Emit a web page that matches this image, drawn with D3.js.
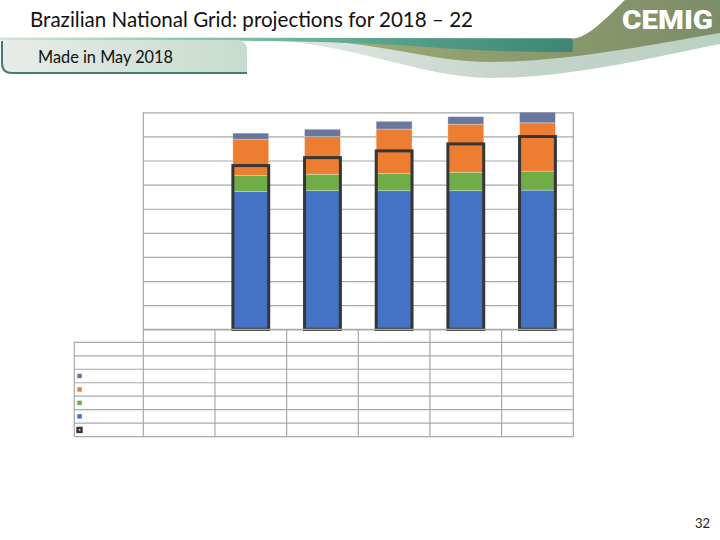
<!DOCTYPE html>
<html><head><meta charset="utf-8">
<script src="https://cdn.jsdelivr.net/npm/d3@7"></script>
<style>html,body{margin:0;padding:0;background:#fff;}svg{display:block;}</style>
</head><body>
<svg id="chart" width="720" height="540"></svg>
<script>
// ---- data (axis & table labels are blank there) ----
const categories = ["", "", "", "", "", ""];
const blueValues   = [null, 114.2, 115.0, 115.0, 115.0, 115.4];
const greenValues  = [null, 13.3, 13.6, 14.1, 15.3, 15.8];
const orangeValues = [null, 30.2, 31.2, 37.0, 39.8, 40.1];
const slateValues  = [null, 5.0, 6.1, 6.4, 6.3, 8.9];
const totalValues  = [null, 135.8, 142.4, 148.0, 153.8, 159.9];
const yTicks = [0, 20, 40, 60, 80, 100, 120, 140, 160, 180];
const tableRowNames = ["", "", "", "", "", "", ""];
const tableRowKeys = [null, null, "slate", "orange", "green", "blue", "total"];
const titleText = "Brazilian National Grid: projections for 2018 \u2013 22";
const subtitleText = "Made in May 2018";
const pageNumber = "32";

(function () {
const colors = {blue:"#4472C4", green:"#70AD47", orange:"#ED7D31", slate:"#69779C", total:"#363636"};

const svg = d3.select("#chart");
const defs = svg.append("defs");

// ---- header decoration ----
function grad(id, stops) {
  const g = defs.append("linearGradient").attr("id", id)
    .attr("x1", "0%").attr("x2", "100%").attr("y1", "0%").attr("y2", "0%");
  stops.forEach(s => g.append("stop").attr("offset", s[0]).attr("stop-color", s[1]));
}
grad("gGray", [["0%", "#E3EBE6"], ["60%", "#C4D3CA"], ["100%", "#B9D2C2"]]);
grad("gOlive", [["0%", "#A3AE7C"], ["50%", "#8D9C6D"], ["100%", "#7E8D69"]]);
grad("gTeal", [["0%", "#D6E3DA"], ["35%", "#86C6A6"], ["70%", "#55A08A"], ["100%", "#3F8575"]]);
grad("gTab", [["0%", "#E8ECE8"], ["100%", "#C6DCCE"]]);

const hdr = svg.append("g");
hdr.append("path").attr("fill", "url(#gGray)")
  .attr("d", "M250,39 C350,41 420,78 490,78 C570,78 650,58 720,44 L720,0 L625,0 C600,25 585,39 570,39 Z");
hdr.append("path").attr("fill", "url(#gOlive)")
  .attr("d", "M290,39 C380,41 430,62 490,62 C565,62 650,45 720,33 L720,0 L625,0 C600,25 585,39 570,39 Z");
hdr.append("path").attr("fill", "url(#gTeal)")
  .attr("d", "M0,37.5 L572,38.3 C574,45 573,49 572,52 C520,52 470,50.5 420,46.5 C350,41 250,40 0,40 Z");

// tab
hdr.append("path").attr("fill", "url(#gTab)")
  .attr("d", "M2,40 L236,40 Q247,40 247,51 L247,73 L12,73 Q2,73 2,63 Z");
hdr.append("path").attr("fill", "none").attr("stroke", "#3F7E70").attr("stroke-width", 2)
  .attr("d", "M2,41 L2,63 Q2,73 12,73 L247,73");

hdr.append("text").attr("x", 30).attr("y", 27.3)
  .attr("font-family", "Lato, 'Open Sans', sans-serif").attr("font-size", 20.5)
  .attr("fill", "#111").attr("textLength", 443).attr("lengthAdjust", "spacingAndGlyphs")
  .text(titleText);

hdr.append("text").attr("x", 38).attr("y", 63.3)
  .attr("font-family", "Lato, 'Open Sans', sans-serif").attr("font-size", 17)
  .attr("fill", "#111").attr("textLength", 135).attr("lengthAdjust", "spacingAndGlyphs")
  .text(subtitleText);

hdr.append("text").attr("x", 622).attr("y", 28.5)
  .attr("font-family", "Roboto, 'DejaVu Sans', sans-serif").attr("font-weight", 900)
  .attr("font-size", 26).attr("fill", "#fff")
  .attr("textLength", 91).attr("lengthAdjust", "spacingAndGlyphs").text("CEMIG");

svg.append("text").attr("x", 710).attr("y", 528.3).attr("text-anchor", "end")
  .attr("font-family", "Lato, 'Open Sans', sans-serif").attr("font-size", 13)
  .attr("fill", "#222").text(pageNumber);

// ---- chart ----
const pL = 143.3, pR = 573.3, pT = 112.3, pB = 329.3;
const x = d3.scaleBand().domain(d3.range(categories.length)).range([pL, pR])
  .paddingInner(0.5).paddingOuter(0.25);
const step = x.step();
const y = d3.scaleLinear().domain([0, 180]).range([pB, pT]);
const lineColor = "#A8A8A8";

defs.append("clipPath").attr("id", "plotClip").append("rect")
  .attr("x", pL).attr("y", pT).attr("width", pR - pL).attr("height", pB - pT);

const yAxis = d3.axisLeft(y).tickValues(yTicks).tickSize(-(pR - pL)).tickFormat(() => "");
const ga = svg.append("g").attr("transform", `translate(${pL},0)`).call(yAxis);
ga.select(".domain").remove();
ga.selectAll(".tick line").attr("stroke", lineColor).attr("stroke-width", 1.2);
ga.selectAll(".tick text").remove();
[pL, pR].forEach(xx => svg.append("line").attr("x1", xx).attr("x2", xx).attr("y1", pT).attr("y2", pB)
  .attr("stroke", lineColor).attr("stroke-width", 1.2));

// stacked bars
const stackKeys = ["blue", "green", "orange", "slate"];
const rows = categories.map((c, i) => ({i, blue: blueValues[i], green: greenValues[i],
  orange: orangeValues[i], slate: slateValues[i]}));
const valid = rows.filter(r => r.blue != null);
const stacked = d3.stack().keys(stackKeys)(valid);
const bars = svg.append("g").attr("clip-path", "url(#plotClip)");
stacked.forEach(layer => {
  bars.append("g").selectAll("rect").data(layer).join("rect")
    .attr("x", d => x(d.data.i)).attr("width", x.bandwidth())
    .attr("y", d => y(d[1])).attr("height", d => y(d[0]) - y(d[1]))
    .attr("fill", colors[layer.key])
    .attr("stroke", "#ffffff").attr("stroke-opacity", 0.35).attr("stroke-width", 0.8);
});
// total outline
svg.append("g").selectAll("rect")
  .data(totalValues.map((v, i) => ({v, i})).filter(d => d.v != null)).join("rect")
  .attr("x", d => x(d.i)).attr("width", x.bandwidth())
  .attr("y", d => y(d.v)).attr("height", d => y(0) - y(d.v))
  .attr("fill", "none").attr("stroke", colors.total).attr("stroke-width", 3);

// ---- data table ----
const tableLeft = 74.3, headerBottom = 342.3, rowH = 13.48;
const tg = svg.append("g").attr("stroke", lineColor).attr("stroke-width", 1.2);
tg.append("line").attr("x1", pL).attr("x2", pR).attr("y1", pB).attr("y2", pB);
const tableBottom = headerBottom + rowH * tableRowNames.length;
d3.range(categories.length + 1).forEach(k => {
  const xx = pL + k * step;
  tg.append("line").attr("x1", xx).attr("x2", xx).attr("y1", pB).attr("y2", tableBottom);
});
tg.append("line").attr("x1", tableLeft).attr("x2", tableLeft).attr("y1", headerBottom).attr("y2", tableBottom);
d3.range(tableRowNames.length + 1).forEach(r => {
  const yy = headerBottom + r * rowH;
  tg.append("line").attr("x1", tableLeft).attr("x2", pR).attr("y1", yy).attr("y2", yy);
});
svg.append("g").selectAll("text").data(categories).join("text")
  .attr("x", (d, i) => x(i) + x.bandwidth() / 2).attr("y", pB + 10)
  .attr("text-anchor", "middle").attr("font-size", 9).attr("font-family", "Lato, sans-serif")
  .text(d => d);
tableRowNames.forEach((name, r) => {
  const cy = headerBottom + r * rowH + rowH / 2;
  const key = tableRowKeys[r];
  if (key === "total") {
    svg.append("rect").attr("x", 76.3).attr("y", cy - 3.2).attr("width", 6.4).attr("height", 6.4)
      .attr("fill", colors.total);
    svg.append("rect").attr("x", 78.8).attr("y", cy - 0.8).attr("width", 1.5).attr("height", 1.5)
      .attr("fill", "#fff");
  } else if (key) {
    svg.append("rect").attr("x", 77.3).attr("y", cy - 2.3).attr("width", 4.5).attr("height", 4.5)
      .attr("fill", colors[key]);
  }
  svg.append("text").attr("x", 86).attr("y", cy + 3).attr("font-size", 9)
    .attr("font-family", "Lato, sans-serif").text(name);
});
})();
</script>
</body></html>
